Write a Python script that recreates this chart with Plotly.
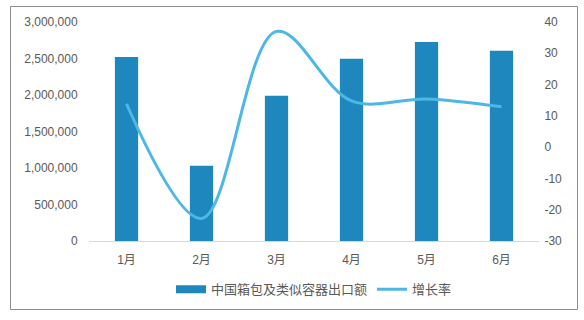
import plotly.graph_objects as go

months = ["1月", "2月", "3月", "4月", "5月", "6月"]
export_value = [2520000, 1030000, 1990000, 2495000, 2725000, 2605000]
growth_rate = [13.8, -22.8, 37.0, 14.8, 15.4, 12.9]
rate_ticks = [-30, -20, -10, 0, 10, 20, 30, 40]
rate_tick_text = ["-30", "-20", "-10", "0", "10", "20", "30", "40"]

bar_name = "中国箱包及类似容器出口额"
line_name = "增长率"

FONT = "Liberation Sans, Arial, Noto Sans CJK SC, sans-serif"
TXT = "#595959"
BAR_C = "#1E88BE"
LINE_C = "#4DB7E6"

fig = go.Figure()
fig.add_trace(go.Bar(
    x=months, y=export_value, name=bar_name, showlegend=False,
    marker=dict(color=BAR_C, line=dict(width=0)),
    width=0.31,
))
# legend entry for the bars: a wide rectangle key
fig.add_trace(go.Scatter(
    x=[None], y=[None], name=bar_name, mode="lines",
    line=dict(color=BAR_C, width=8), showlegend=True,
))
fig.add_trace(go.Scatter(
    x=months, y=growth_rate, name=line_name, yaxis="y2",
    mode="lines", line=dict(color=LINE_C, width=3, shape="spline", smoothing=1.0),
))

fig.update_layout(
    width=584, height=320,
    margin=dict(l=89, r=45, t=22, b=79),
    paper_bgcolor="white", plot_bgcolor="white",
    font=dict(family=FONT, size=12, color=TXT),
    showlegend=True,
    legend=dict(orientation="h", x=0.5, xanchor="center", y=-0.22, yanchor="middle",
                font=dict(size=13, color=TXT), itemwidth=30, tracegroupgap=0,
                bgcolor="rgba(0,0,0,0)"),
    bargap=0.69,
    xaxis=dict(showgrid=False, showline=True, linecolor="#D9D9D9", linewidth=1,
               ticks="outside", ticklen=8, tickcolor="rgba(0,0,0,0)",
               tickfont=dict(size=12, color=TXT), zeroline=False, fixedrange=True),
    yaxis=dict(range=[0, 3000000], dtick=500000, tickformat=",d", showgrid=False,
               zeroline=False, showline=False, ticks="outside", ticklen=8,
               tickcolor="rgba(0,0,0,0)", tickfont=dict(size=12, color=TXT)),
    yaxis2=dict(range=[-30, 40], tickvals=rate_ticks, ticktext=rate_tick_text,
                overlaying="y", side="right", showgrid=False,
                zeroline=False, showline=False, ticks="outside", ticklen=2,
                tickcolor="rgba(0,0,0,0)", tickfont=dict(size=12, color=TXT)),
    shapes=[dict(type="rect", xref="paper", yref="paper",
                 x0=(10.5 - 89) / 450, x1=(577.5 - 89) / 450,
                 y0=-(68.5 / 219), y1=1 + 15.5 / 219,
                 line=dict(color="#8C8C8C", width=1), fillcolor="rgba(0,0,0,0)",
                 layer="below")],
)

fig.write_html("out.html")
